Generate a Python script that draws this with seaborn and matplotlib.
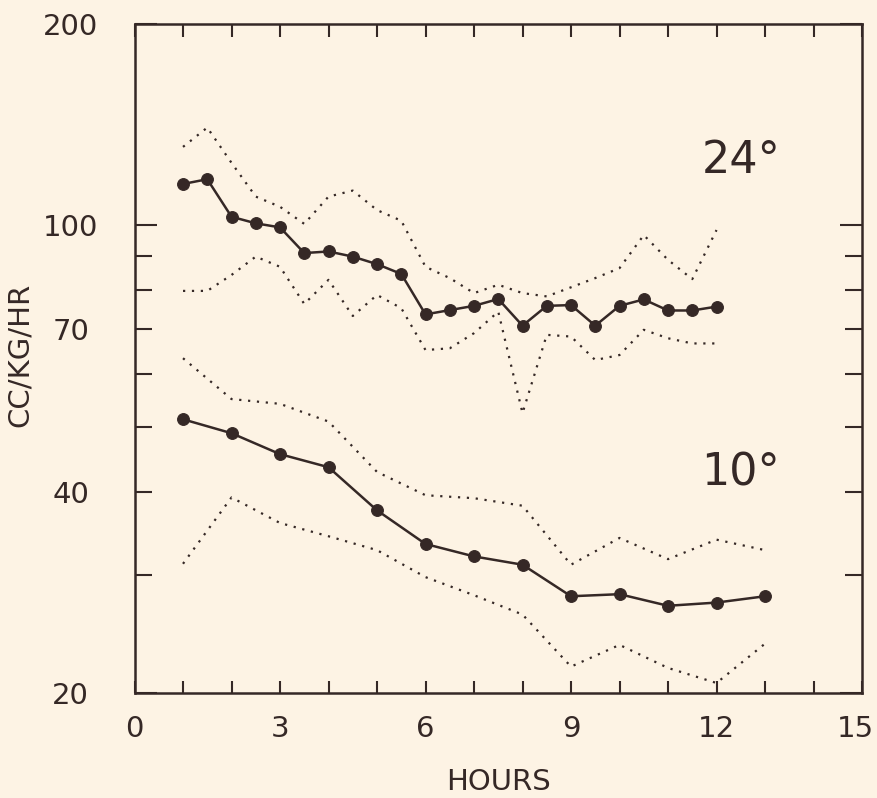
import numpy as np
import pandas as pd
import matplotlib
matplotlib.use("Agg")
import matplotlib.pyplot as plt
import seaborn as sns
from matplotlib.ticker import FixedLocator
from matplotlib.transforms import ScaledTranslation

# ---- data ----
hours_24 = [1, 1.5, 2, 2.5, 3, 3.5, 4, 4.5, 5, 5.5, 6, 6.5, 7, 7.5, 8, 8.5,
            9, 9.5, 10, 10.5, 11, 11.5, 12]
mean_24 = [115.3, 117.2, 103.0, 100.7, 99.3, 90.9, 91.4, 89.8, 87.5, 84.6, 73.6,
           74.7, 75.8, 77.6, 70.8, 75.8, 76.0, 70.8, 75.8, 77.5, 74.6, 74.6, 75.6]
upper_24 = [131, 140, 124, 110.4, 106.6, 100.5, 110.4, 112.7, 105.4, 101.6, 86.7,
            83.4, 79.2, 81.5, 79.2, 78.3, 80.8, 83.4, 86.3, 96.7, 88.8, 83.1, 98.4]
lower_24 = [79.8, 79.8, 84.3, 89.8, 86.7, 76.3, 82.9, 73.2, 78.7, 75.2, 65.1,
            65.5, 69.0, 74.3, 52.4, 68.6, 68.2, 62.9, 64.0, 69.8, 67.8, 66.6, 66.6]

hours_10 = [1, 2, 3, 4, 5, 6, 7, 8, 9, 10, 11, 12, 13]
mean_10 = [51.3, 48.9, 45.5, 43.5, 37.5, 33.4, 32.0, 31.1, 27.9, 28.1, 27.0, 27.3, 27.9]
upper_10 = [63.3, 55.0, 54.1, 50.9, 42.8, 39.5, 39.1, 38.1, 31.1, 34.1, 31.7, 33.9, 32.7]
lower_10 = [31.2, 39.2, 35.9, 34.3, 32.7, 29.8, 28.0, 26.2, 21.9, 23.6, 21.8, 20.7, 23.7]

series_labels = ["24\u00b0", "10\u00b0"]
x_ticks = [0, 3, 6, 9, 12, 15]
y_labels = {20: "20", 40: "40", 70: "70", 100: "100", 200: "200"}

# ---- style ----
BG = "#FDF3E4"
INK = "#352826"
sns.set_style("ticks")
plt.rcParams["font.family"] = ["DejaVu Sans"]

fig = plt.figure(figsize=(8.78, 7.98), dpi=100, facecolor=BG)
ax = fig.add_axes([0.1532, 0.1316, 0.8286, 0.8384])
ax.set_facecolor(BG)

def frame(x, y, kind):
    return pd.DataFrame({"hours": x, "rate": y, "kind": kind})

# dotted bands
for xs, ys in [(hours_24, upper_24), (hours_24, lower_24),
               (hours_10, upper_10), (hours_10, lower_10)]:
    sns.lineplot(data=frame(xs, ys, "band"), x="hours", y="rate", ax=ax,
                 estimator=None, sort=False, color=INK, lw=1.6,
                 linestyle=(0, (1, 3)), legend=False)

# mean series
for xs, ys in [(hours_24, mean_24), (hours_10, mean_10)]:
    sns.lineplot(data=frame(xs, ys, "mean"), x="hours", y="rate", ax=ax,
                 estimator=None, sort=False, color=INK, lw=1.8,
                 marker="o", markersize=8.5, markeredgecolor=INK,
                 markerfacecolor=INK, legend=False)

ax.set_yscale("log")
ax.set_xlim(0, 15)
ax.set_ylim(20, 200)

# x ticks
ax.set_xticks(x_ticks)
ax.set_xticklabels([str(t) for t in x_ticks])
ax.xaxis.set_minor_locator(FixedLocator(list(range(1, 15))))
ax.tick_params(axis="x", which="both", direction="in", top=True, bottom=True,
               length=9, width=1.5, color=INK, labelsize=21, labelcolor=INK,
               pad=16)

# y ticks: long tick at 100, short ticks elsewhere
ax.yaxis.set_major_locator(FixedLocator([20, 100, 200]))
ax.yaxis.set_minor_locator(FixedLocator([30, 40, 50, 60, 70, 80, 90]))
ax.yaxis.set_major_formatter(plt.FixedFormatter([y_labels[20], y_labels[100], y_labels[200]]))
ax.yaxis.set_minor_formatter(plt.FixedFormatter(["", y_labels[40], "", "", y_labels[70], "", ""]))
ax.tick_params(axis="y", which="major", direction="in", left=True, right=True,
               length=16, width=1.5, color=INK, labelsize=21, labelcolor=INK, pad=46)
ax.tick_params(axis="y", which="minor", direction="in", left=True, right=True,
               length=12, width=1.5, color=INK, labelsize=21, labelcolor=INK, pad=46)
for tl in ax.get_yticklabels(which="both"):
    tl.set_horizontalalignment("center")

# keep the "15" label inside the canvas
last = ax.xaxis.get_major_ticks()[-1].label1
last.set_transform(last.get_transform() + ScaledTranslation(-5 / 72, 0, fig.dpi_scale_trans))

for s in ax.spines.values():
    s.set_color(INK)
    s.set_linewidth(1.8)

ax.set_xlabel("HOURS", fontsize=21, color=INK, labelpad=18)
ax.set_ylabel("CC/KG/HR", fontsize=21, color=INK)
ax.yaxis.set_label_coords(-0.138, 0.505)

ax.text(12.5, 124.8, series_labels[0], fontsize=32, color=INK, ha="center", va="center")
ax.text(12.5, 42.7, series_labels[1], fontsize=32, color=INK, ha="center", va="center")

fig.savefig("out.png", dpi=100, facecolor=BG)
